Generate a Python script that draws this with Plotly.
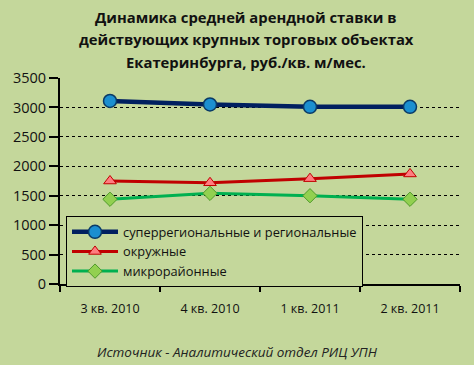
import plotly.graph_objects as go

categories = ["3 кв. 2010", "4 кв. 2010", "1 кв. 2011", "2 кв. 2011"]
super_regional = [3110, 3050, 3010, 3010]
okruzhnye = [1750, 1720, 1790, 1870]
mikro = [1440, 1540, 1500, 1440]
names = ["суперрегиональные и региональные", "окружные", "микрорайонные"]
y_ticks = [0, 500, 1000, 1500, 2000, 2500, 3000, 3500]

bg = "#c4d79b"
font = "Open Sans"

# plot area in pixels
PL, PR, PT, PB = 60, 460, 78, 284
W, H = 474, 365


def py(p):
    return (PB - p) / (PB - PT)


def px(p):
    return (p - PL) / (PR - PL)


fig = go.Figure()
fig.add_trace(go.Scatter(
    x=categories, y=super_regional, name=names[0], mode="lines+markers",
    line=dict(color="#002060", width=4.5),
    marker=dict(symbol="circle", size=13, color="#1b8fd0", line=dict(color="#0a3a66", width=1.5)),
))
fig.add_trace(go.Scatter(
    x=categories, y=okruzhnye, name=names[1], mode="lines+markers",
    line=dict(color="#c00000", width=3),
    marker=dict(symbol="triangle-up", size=11, color="#ff7c80", line=dict(color="#c00000", width=1)),
))
fig.add_trace(go.Scatter(
    x=categories, y=mikro, name=names[2], mode="lines+markers",
    line=dict(color="#00b050", width=3),
    marker=dict(symbol="diamond", size=11, color="#92d050", line=dict(color="#4f9a2a", width=1)),
))

title_lines = ["Динамика средней арендной ставки в",
               "действующих крупных торговых объектах",
               "Екатеринбурга, руб./кв. м/мес."]
for i, t in enumerate(title_lines):
    fig.add_annotation(text="<b>" + t + "</b>", x=px(246), xref="paper", yref="paper",
                       y=py(17 + 22.5 * i), xanchor="center", yanchor="middle",
                       showarrow=False, font=dict(family=font, size=14.8, color="#111111"))

fig.add_annotation(text="<i>Источник - Аналитический отдел РИЦ УПН</i>", x=px(237), xref="paper",
                   y=py(352), yref="paper", xanchor="center", yanchor="middle",
                   showarrow=False, font=dict(family=font, size=13.5, color="#222222"))

fig.update_layout(
    width=W, height=H,
    margin=dict(l=PL, r=W - PR, t=PT, b=H - PB),
    paper_bgcolor=bg, plot_bgcolor=bg,
    font=dict(family=font, color="#111111"),
    showlegend=True,
    legend=dict(x=px(66), y=py(216), xanchor="left", yanchor="top",
                bgcolor=bg, bordercolor="#000000", borderwidth=1,
                font=dict(family=font, size=12.8, color="#111111"),
                tracegroupgap=0, itemwidth=46),
    xaxis=dict(range=[-0.5, 3.5], showline=True, linecolor="#000000", linewidth=2,
               ticks="outside", tickson="boundaries", ticklen=6, tickwidth=2, tickcolor="#000000",
               ticklabelstandoff=12,
               showgrid=False, tickfont=dict(family=font, size=12.5, color="#111111")),
    yaxis=dict(range=[0, 3500], tickvals=y_ticks, showline=True, linecolor="#000000", linewidth=2,
               ticks="outside", ticklen=9, tickwidth=2, tickcolor="#000000",
               showgrid=True, gridcolor="#000000", gridwidth=1, griddash="dot",
               zeroline=False, tickfont=dict(family=font, size=14.5, color="#111111")),
)

fig.write_html("out.html", config={"displayModeBar": False})

# remove default page margin so the chart fills the window
with open("out.html", encoding="utf-8") as f:
    html = f.read()
html = html.replace("<head>", "<head><style>html,body{margin:0;padding:0;}</style>", 1)
with open("out.html", "w", encoding="utf-8") as f:
    f.write(html)
